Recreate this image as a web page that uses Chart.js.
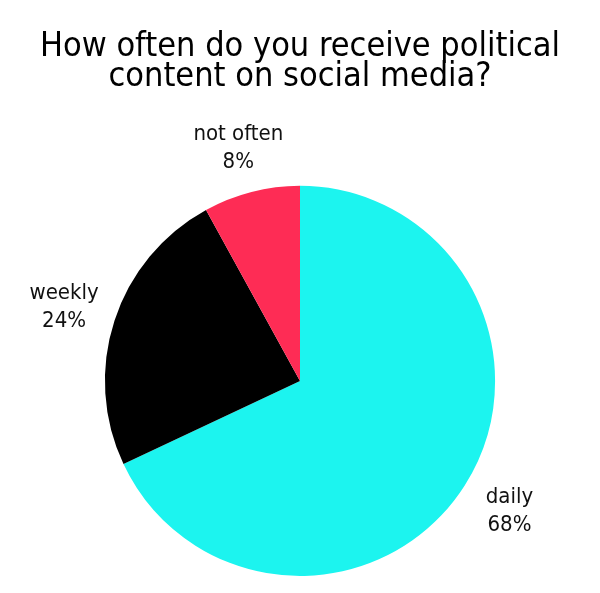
<!DOCTYPE html>
<html>
<head>
<meta charset="utf-8">
<script src="https://cdn.jsdelivr.net/npm/chart.js@4"></script>
<style>
html,body{margin:0;padding:0;background:#fff;}
#wrap{width:600px;height:593px;}
</style>
</head>
<body>
<div id="wrap"><canvas id="c" width="600" height="593"></canvas></div>
<script>
const titleLines = ["How often do you receive political", "content on social media?"];
const categories = ["daily", "weekly", "not often"];
const values = [68, 24, 8];
const colors = ["#1CF4EF", "#000000", "#FE2C55"];
const FONT = "'DejaVu Sans Condensed', 'DejaVu Sans', sans-serif";

const outsideLabels = {
  id: 'outsideLabels',
  afterDatasetsDraw(chart) {
    const ctx = chart.ctx;
    const meta = chart.getDatasetMeta(0);
    ctx.save();
    ctx.fillStyle = '#111';
    ctx.font = "22px " + FONT;
    ctx.textAlign = 'center';
    ctx.textBaseline = 'middle';
    meta.data.forEach((arc, i) => {
      const mid = (arc.startAngle + arc.endAngle) / 2;
      const rx = arc.outerRadius + 53;
      const ry = arc.outerRadius + 46;
      const x = arc.x + Math.cos(mid) * rx;
      const y = arc.y + Math.sin(mid) * ry + 1;
      ctx.fillText(categories[i], x, y - 14);
      ctx.fillText(values[i] + '%', x, y + 14);
    });
    ctx.restore();
  }
};

new Chart(document.getElementById('c'), {
  type: 'pie',
  data: {
    labels: categories,
    datasets: [{ data: values, backgroundColor: colors, borderWidth: 0 }]
  },
  options: {
    responsive: false,
    animation: false,
    layout: { padding: { top: 0, bottom: 17, left: 0, right: 0 } },
    plugins: {
      legend: { display: false },
      tooltip: { enabled: false },
      title: {
        display: true,
        text: titleLines,
        color: '#000',
        font: { family: FONT, size: 34, weight: 'normal', lineHeight: 0.88 },
        padding: { top: 32, bottom: 94 }
      }
    }
  },
  plugins: [outsideLabels]
});
</script>
</body>
</html>
